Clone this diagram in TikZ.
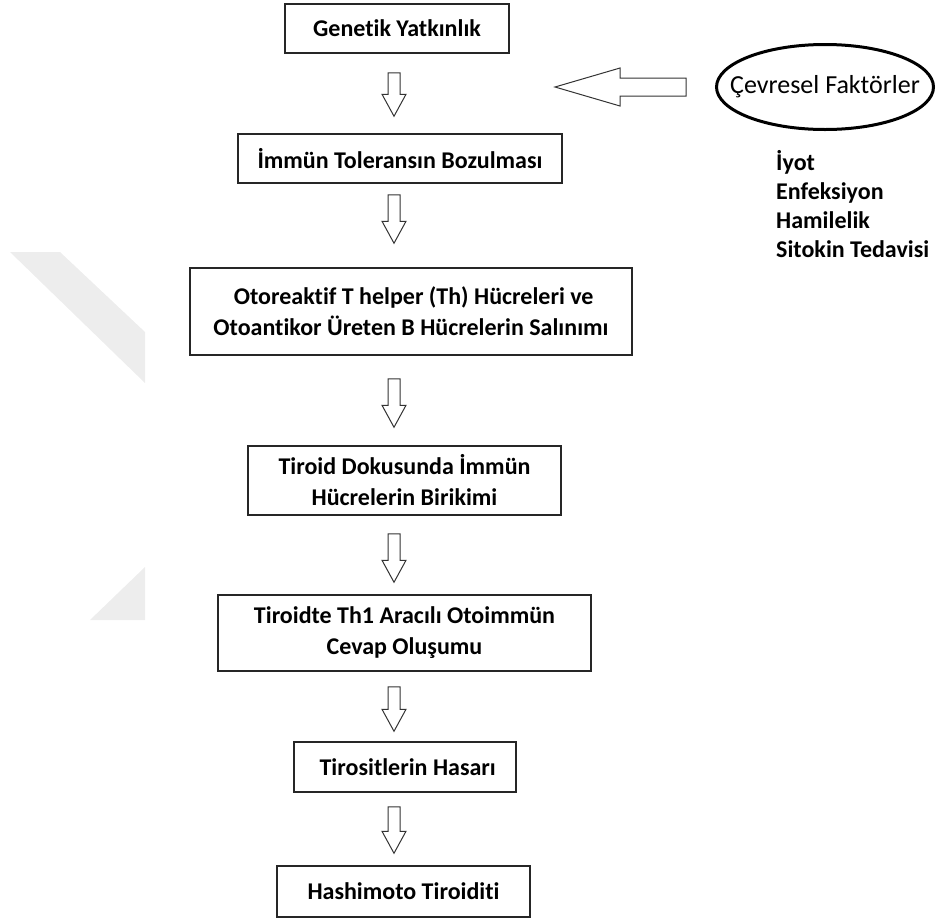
\documentclass[tikz,border=0pt]{standalone}
\usepackage{fontspec}
\setmainfont{Carlito}[Ligatures=NoCommon]
\usetikzlibrary{shapes.geometric, calc}

\tikzset{
	stepbox/.style={draw=black!85, line width=1.5pt, align=center, inner sep=0pt,
		font=\bfseries\fontsize{24}{31}\selectfont},
	arrowline/.style={draw=black!80, line width=1pt, line join=miter},
	cause/.style={ellipse, draw=black, line width=3pt, inner xsep=-40pt, inner ysep=0pt,
		font=\fontsize{26}{29}\selectfont},
	factorlist/.style={align=left, inner sep=0pt, font=\bfseries\fontsize{24}{29}\selectfont}
}

% hollow block arrow pointing down: from node, to node, gap above, gap below
\newcommand{\hollowdown}[4]{%
	\draw[arrowline] let \p1=([yshift=-#3pt]#1.south), \p2=([yshift=#4pt]#2.north) in
		(388pt,\y1) -- (400pt,\y1) -- (400pt,\y2+22pt) -- (406pt,\y2+22pt)
		-- (394pt,\y2) -- (382pt,\y2+22pt) -- (388pt,\y2+22pt) -- cycle;
}

\begin{document}
\begin{tikzpicture}[x=1pt, y=-1pt]
	\useasboundingbox (0,0) rectangle (936,919);

	% faint watermark on the left
	\fill[black!7] (10,252) -- (60,252) -- (145,332) -- (145,383) -- cycle;
	\fill[black!7] (145,567) -- (145,620) -- (90,620) -- cycle;

	% steps
	\node[stepbox, minimum width=224pt, minimum height=49pt] (genetik) at (397,28.5) {Genetik Yatkınlık};
	\node[stepbox, minimum width=324pt, minimum height=49pt] (tolerans) at (400,158.5) {İmmün Toleransın Bozulması};
	\node[stepbox, minimum width=442pt, minimum height=87pt] (hucre) at (411,311.5)
		{\ Otoreaktif T helper (Th) Hücreleri ve\\ Otoantikor Üreten B Hücrelerin Salınımı};
	\node[stepbox, minimum width=313pt, minimum height=69pt] (birikim) at (404.5,480.5)
		{Tiroid Dokusunda İmmün\\Hücrelerin Birikimi};
	\node[stepbox, minimum width=373pt, minimum height=76pt] (cevap) at (404.5,633)
		{Tiroidte Th1 Aracılı Otoimmün\\Cevap Oluşumu};
	\node[stepbox, minimum width=222pt, minimum height=50pt] (hasar) at (405,767) {\ Tirositlerin Hasarı};
	\node[stepbox, minimum width=253pt, minimum height=51pt] (hashimoto) at (403.5,891.5) {Hashimoto Tiroiditi};

	% environment
	\node[cause, minimum width=217pt, minimum height=85pt] (cevre) at (825,87) {Çevresel Faktörler};
	\node[factorlist, anchor=base west] (faktorler) at (776,257)
		{İyot\\Enfeksiyon\\Hamilelik\\Sitokin Tedavisi};

	% arrows
	\hollowdown{genetik}{tolerans}{19}{17}
	\hollowdown{tolerans}{hucre}{11}{24}
	\hollowdown{hucre}{birikim}{23}{18}
	\hollowdown{birikim}{cevap}{18}{12}
	\hollowdown{cevap}{hasar}{15}{10}
	\hollowdown{hasar}{hashimoto}{14}{12}
	\draw[arrowline] let \p1=([xshift=-29pt]cevre.west) in
		(\x1,\y1-9pt) -- (\x1,\y1+9pt) -- (620pt,\y1+9pt) -- (620pt,\y1+19pt)
		-- (555pt,\y1) -- (620pt,\y1-19pt) -- (620pt,\y1-9pt) -- cycle;
\end{tikzpicture}
\end{document}
